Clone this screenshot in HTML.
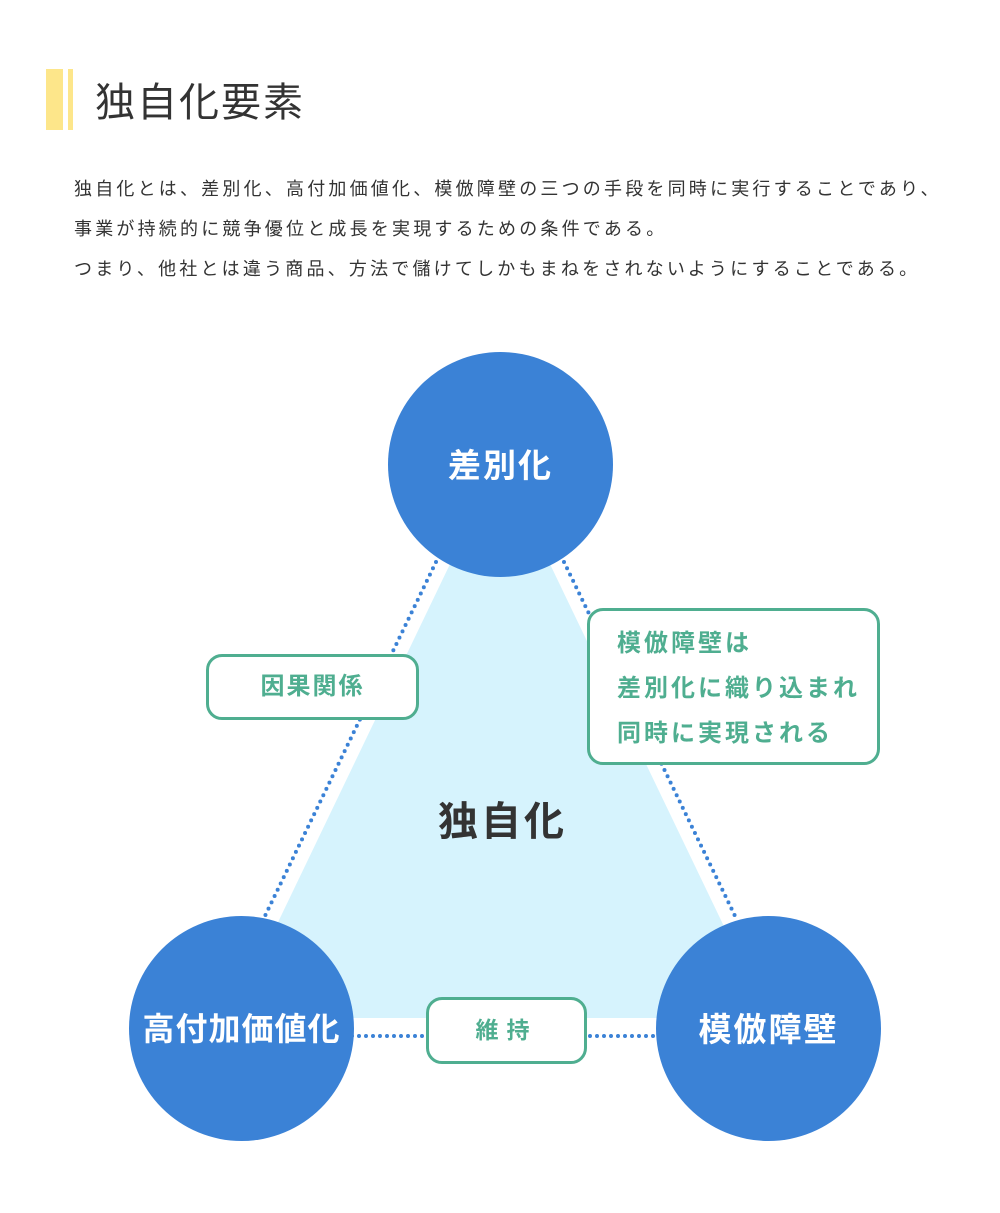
<!DOCTYPE html>
<html><head><meta charset="utf-8"><style>
body{margin:0;width:1000px;height:1213px;background:#fff;position:relative;font-family:"Liberation Sans","Noto Sans CJK JP",sans-serif;overflow:hidden}
.a{position:absolute}
.t{color:#333;font-size:18px;letter-spacing:3.2px;left:74px;white-space:nowrap}
.box{position:absolute;background:#fff;border:3px solid #4fae90;border-radius:16px;box-sizing:border-box;color:#4fae90;font-weight:bold;font-size:23px;letter-spacing:2px}
.c{position:absolute;width:225px;height:225px;border-radius:50%;background:#3b82d6;color:#fff;font-weight:bold;font-size:33px;display:flex;align-items:center;justify-content:center;letter-spacing:2px;padding-bottom:4px;box-sizing:border-box}
</style></head><body>
<div class="a" style="left:46px;top:69px;width:17px;height:61px;background:#fde68a"></div>
<div class="a" style="left:68px;top:69px;width:5px;height:61px;background:#fde68a"></div>
<div class="a" style="left:95px;top:70px;font-size:40px;color:#333;letter-spacing:2px">独自化要素</div>
<div class="a t" style="top:175px">独自化とは、差別化、高付加価値化、模倣障壁の三つの手段を同時に実行することであり、</div>
<div class="a t" style="top:215px">事業が持続的に競争優位と成長を実現するための条件である。</div>
<div class="a t" style="top:255px">つまり、他社とは違う商品、方法で儲けてしかもまねをされないようにすることである。</div>
<svg class="a" style="left:0;top:0" width="1000" height="1213">
<polygon points="500,460 232,1018 768,1018" fill="#d6f3fd"/>
<g stroke="#3b82d6" stroke-width="4" stroke-linecap="round" stroke-dasharray="0 7" fill="none">
<line x1="436" y1="562" x2="264" y2="918"/>
<line x1="564" y1="562" x2="736" y2="918"/>
<line x1="352" y1="1036" x2="660" y2="1036"/>
</g>
</svg>
<div class="c" style="left:388px;top:352px">差別化</div>
<div class="c" style="left:129px;top:916px;font-size:32px;letter-spacing:1px">高付加価値化</div>
<div class="c" style="left:656px;top:916px">模倣障壁</div>
<div class="a" style="left:438px;top:789px;font-size:40px;font-weight:bold;color:#333;letter-spacing:3px">独自化</div>
<div class="box" style="left:206px;top:654px;width:213px;height:66px;text-align:center;line-height:60px;font-size:24px">因果関係</div>
<div class="box" style="left:587px;top:608px;width:293px;height:157px;padding:10px 0 0 27px;line-height:45px;font-size:24px;letter-spacing:3px">模倣障壁は<br>差別化に織り込まれ<br>同時に実現される</div>
<div class="box" style="left:426px;top:997px;width:161px;height:67px;text-align:center;line-height:61px;letter-spacing:8px">維持</div>
</body></html>
